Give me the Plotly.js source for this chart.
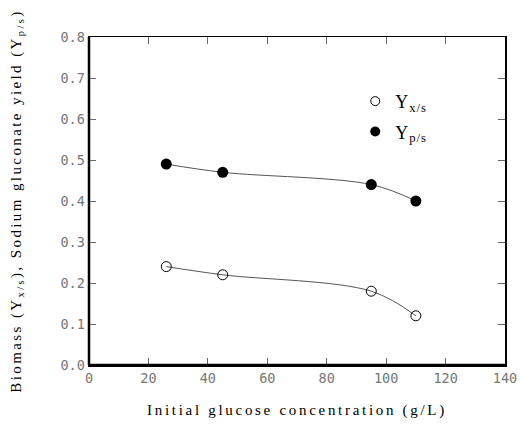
<!DOCTYPE html>
<html><head><meta charset="utf-8">
<script src="https://cdn.plot.ly/plotly-3.0.1.min.js"></script>
<style>body{margin:0;background:#fff}#c{width:520px;height:427px}
.xtitle{letter-spacing:2.7px}
.ytitle{letter-spacing:2.4px}
.legendtext{letter-spacing:1px}
</style>
</head><body><div id="c"></div>
<script>
const glucose = [26, 45, 95, 110];
const yxs = [0.24, 0.22, 0.18, 0.12];
const yps = [0.49, 0.47, 0.44, 0.40];
const xTicks = [0, 20, 40, 60, 80, 100, 120, 140];
const yTicks = [0.0, 0.1, 0.2, 0.3, 0.4, 0.5, 0.6, 0.7, 0.8];
const seriesNames = ["Y<sub>x/s</sub>", "Y<sub>p/s</sub>"];

const titleFont = "Liberation Serif, Times New Roman, serif";
const lineStyle = {shape: "spline", color: "#555", width: 1};
const traces = [
  {x: glucose, y: yxs, mode: "lines+markers", showlegend: false, line: lineStyle,
   marker: {symbol: "circle-open", size: 10, color: "#000", line: {width: 1}}},
  {x: glucose, y: yps, mode: "lines+markers", showlegend: false, line: lineStyle,
   marker: {symbol: "circle", size: 11, color: "#000"}},
  {x: [null], y: [null], name: seriesNames[0], mode: "markers", legendgroup: "a",
   marker: {symbol: "circle-open", size: 9, color: "#000", line: {width: 1}}},
  {x: [null], y: [null], name: seriesNames[1], mode: "markers", legendgroup: "b",
   marker: {symbol: "circle", size: 10, color: "#000"}}
];
const axisCommon = {showgrid: false, zeroline: false, showline: true, linecolor: "#000",
  linewidth: 1.5, mirror: "ticks", ticks: "inside", ticklen: 7, tickcolor: "#666", tickwidth: 1,
  tickfont: {family: "DejaVu Sans Mono, monospace", size: 13.5, color: "#777"}};
const layout = {
  width: 520, height: 427,
  margin: {l: 89, r: 15, t: 37, b: 62},
  paper_bgcolor: "#fff", plot_bgcolor: "#fff",
  showlegend: true,
  legend: {x: 0.64, y: 0.86, xanchor: "left", yanchor: "top", bgcolor: "rgba(0,0,0,0)",
    font: {family: titleFont, size: 18, color: "#000"}, itemwidth: 30, tracegroupgap: 4},
  xaxis: Object.assign({}, axisCommon, {range: [0, 140], tickvals: xTicks,
    ticktext: xTicks.map(String),
    title: {text: "Initial glucose concentration (g/L)", font: {family: titleFont, size: 15, color: "#000"}, standoff: 20}}),
  yaxis: Object.assign({}, axisCommon, {range: [0, 0.8], tickvals: yTicks,
    ticktext: yTicks.map(v => v.toFixed(1)),
    title: {text: "Biomass (Y<sub>x/s</sub>), Sodium gluconate yield (Y<sub>p/s</sub>)", font: {family: titleFont, size: 15, color: "#000"}, standoff: 35}}),
  shapes: [
    {type: "line", xref: "paper", yref: "paper", x0: 0, x1: 0, y0: 0, y1: 1, line: {color: "#000", width: 2.5}},
    {type: "line", xref: "paper", yref: "paper", x0: 0, x1: 1, y0: 0, y1: 0, line: {color: "#000", width: 2.5}}
  ]
};
Plotly.newPlot("c", traces, layout, {displayModeBar: false, staticPlot: true});
</script></body></html>
